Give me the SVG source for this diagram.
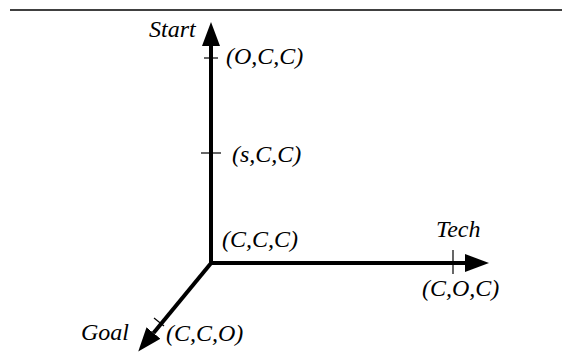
<svg xmlns="http://www.w3.org/2000/svg" width="571" height="352" viewBox="0 0 571 352">
  <defs>
    <marker id="arrow" markerUnits="userSpaceOnUse" markerWidth="26" markerHeight="20" refX="0" refY="9" orient="auto-start-reverse" viewBox="0 0 26 18">
      <path d="M0,0 L24,9 L0,18 Z" fill="#000"/>
    </marker>
  </defs>
  <style>
    .axis { fill: none; stroke: #000; stroke-width: 4; stroke-linejoin: miter; }
    .tick { stroke: #000; stroke-width: 1.2; fill: none; }
    .lbl { font-family: "Liberation Serif", "Times New Roman", serif; font-style: italic; font-size: 24px; fill: #000; }
  </style>
  <rect width="571" height="352" fill="#fff"/>
  <line x1="10" y1="10" x2="562" y2="10" stroke="#000" stroke-width="1.5"/>
  <g id="connectors">
    <path id="axis-start-tech" class="axis" d="M211,46 L211,263 L465,263" marker-start="url(#arrow)" marker-end="url(#arrow)"/>
    <path id="axis-goal" class="axis" d="M212,262 L153.5,333" marker-end="url(#arrow)"/>
    <line class="tick" x1="204" y1="58" x2="218" y2="58"/>
    <line class="tick" x1="201" y1="153" x2="221" y2="153"/>
    <line class="tick" x1="453" y1="250" x2="453" y2="274"/>
    <line class="tick" x1="154" y1="318" x2="164" y2="326"/>
  </g>
  <g id="start"><text class="lbl" x="149" y="37">Start</text></g>
  <g id="occ"><text class="lbl" x="226" y="64">(O,C,C)</text></g>
  <g id="scc"><text class="lbl" x="232" y="162">(s,C,C)</text></g>
  <g id="ccc"><text class="lbl" x="222" y="247">(C,C,C)</text></g>
  <g id="tech"><text class="lbl" x="436" y="237">Tech</text></g>
  <g id="coc"><text class="lbl" x="422" y="296">(C,O,C)</text></g>
  <g id="goal"><text class="lbl" x="81" y="340">Goal</text></g>
  <g id="cco"><text class="lbl" x="166" y="341">(C,C,O)</text></g>
</svg>
